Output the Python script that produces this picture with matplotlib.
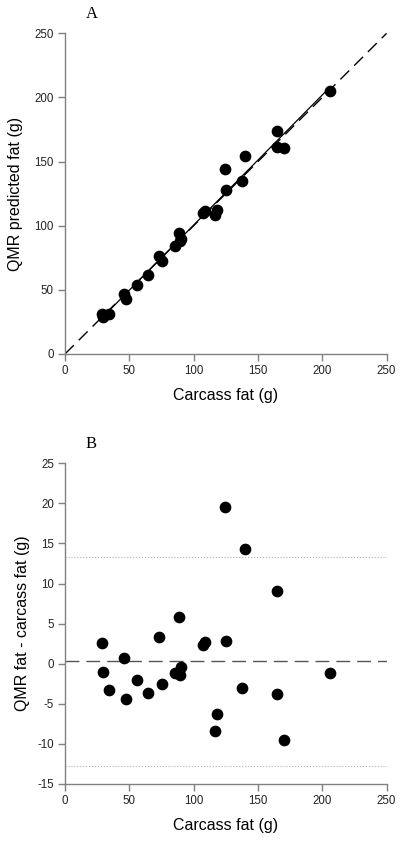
import numpy as np
import matplotlib
matplotlib.use('Agg')
import matplotlib.pyplot as plt

plt.rcParams['font.family'] = ['Liberation Sans', 'DejaVu Sans']
plt.rcParams['axes.unicode_minus'] = False

# Carcass fat (g) and QMR - carcass difference (g)
carcass = [28.5, 29.8, 34.5, 46.1, 47.2, 56.2, 64.8, 73.1, 75.4, 85.5, 88.6, 89.4, 89.9,
           107.5, 109.1, 116.6, 118.4, 124.6, 125.1, 137.8, 140.2, 164.5, 165.0, 170.5, 206.0]
diff = [2.58, -1.0, -3.3, 0.67, -4.45, -2.08, -3.6, 3.33, -2.54, -1.12, 5.86, -1.41, -0.37,
        2.33, 2.70, -8.44, -6.28, 19.58, 2.83, -3.04, 14.35, 9.06, -3.78, -9.56, -1.21]
mean_diff = 0.3
upper_limit = 13.35
lower_limit = -12.8

carcass = np.array(carcass)
diff = np.array(diff)
qmr = carcass + diff

fig = plt.figure(figsize=(4.0, 8.41), dpi=100)
ax1 = fig.add_axes([0.1625, 0.5791, 0.804, 0.3813])
ax2 = fig.add_axes([0.1625, 0.0678, 0.804, 0.3813])

spine_col = '#808080'

def style(ax):
    for s in ['top', 'right']:
        ax.spines[s].set_visible(False)
    for s in ['left', 'bottom']:
        ax.spines[s].set_color(spine_col)
        ax.spines[s].set_linewidth(1.0)
    ax.tick_params(direction='out', length=5, width=1.0, color=spine_col,
                   labelsize=8.3, labelcolor='#222222', pad=3)
    ax.set_xlim(0, 250)
    ax.set_xticks([0, 50, 100, 150, 200, 250])
    ax.set_xlabel('Carcass fat (g)', fontsize=11.5, labelpad=8)

# Panel A
style(ax1)
ax1.plot([0, 250], [0, 250], color='black', lw=1.0, dashes=(9, 5))
b, a = np.polyfit(carcass, qmr, 1)
xs = np.array([carcass.min(), carcass.max()])
ax1.plot(xs, a + b * xs, color='black', lw=0.9)
ax1.scatter(carcass, qmr, s=55, color='black', zorder=3)
ax1.set_ylim(0, 250)
ax1.set_yticks([0, 50, 100, 150, 200, 250])
ax1.set_ylabel('QMR predicted fat (g)', fontsize=11.5, labelpad=8)
ax1.text(0.065, 1.035, 'A', transform=ax1.transAxes, fontsize=12,
         family='Liberation Serif', ha='left', va='bottom')

# Panel B
style(ax2)
ax2.axhline(mean_diff, color='#555555', lw=1.0, dashes=(10, 5))
ax2.axhline(upper_limit, color='#b0b0b0', lw=0.8, ls=':')
ax2.axhline(lower_limit, color='#b0b0b0', lw=0.8, ls=':')
ax2.scatter(carcass, diff, s=55, color='black', zorder=3)
ax2.set_ylim(-15, 25)
ax2.set_yticks(np.arange(-15, 26, 5))
ax2.set_ylabel('QMR fat - carcass fat (g)', fontsize=11.5, labelpad=5)
ax2.text(0.065, 1.035, 'B', transform=ax2.transAxes, fontsize=12,
         family='Liberation Serif', ha='left', va='bottom')

fig.savefig('out.png', dpi=100)
